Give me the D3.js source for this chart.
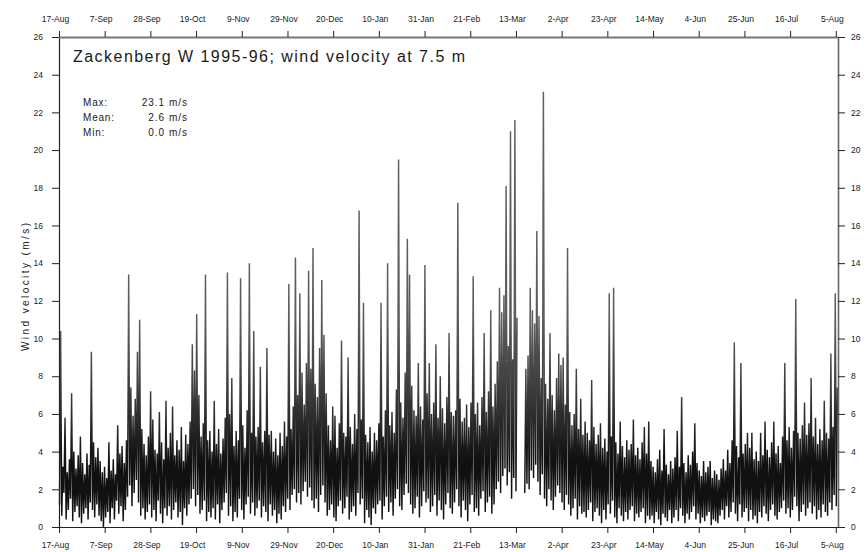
<!DOCTYPE html>
<html>
<head>
<meta charset="utf-8">
<script src="https://cdn.jsdelivr.net/npm/d3@7/dist/d3.min.js"></script>
<style>
  body { margin: 0; background: #fff; }
  svg text { font-family: "Liberation Sans", Arial, sans-serif; fill: #1a1a1a; }
</style>
</head>
<body>
<svg id="chart" width="868" height="552"></svg>
<script>
// Date tick labels (top and bottom axes), evenly spaced from 17-Aug-1995 to 5-Aug-1996
const dateTicks = ["17-Aug", "7-Sep", "28-Sep", "19-Oct", "9-Nov", "29-Nov", "20-Dec",
  "10-Jan", "31-Jan", "21-Feb", "13-Mar", "2-Apr", "23-Apr", "14-May", "4-Jun",
  "25-Jun", "16-Jul", "5-Aug"];
const spanDays = 354;

// Wind velocity ticks (m/s)
const velocityTicks = [0, 2, 4, 6, 8, 10, 12, 14, 16, 18, 20, 22, 24, 26];

// Daily low and high wind velocity (m/s), day 0 = 17-Aug-1995; null = no record
const dailyLow = [
  1.2, 0.6, 1.8, 0.4, 0.9, 1.5, 0.3, 0.8, 1.1, 0.5,
  0.2, 0.7, 1.0, 0.4, 1.3, 0.9, 0.5, 1.2, 0.6, 0.3,
  0.0, 0.5, 0.8, 0.2, 1.0, 0.4, 1.4, 0.7, 1.1, 0.3,
  0.9, 1.6, 2.2, 1.1, 1.8, 2.5, 1.3, 0.6, 1.0, 0.4,
  0.8, 1.2, 0.5, 0.9, 0.3, 1.4, 0.7, 0.2, 1.0, 0.6,
  1.1, 0.4, 0.9, 1.3, 0.5, 0.8, 0.1, 1.0, 0.6, 1.2,
  1.5, 2.0, 1.1, 1.7, 0.7, 0.9, 1.4, 0.3, 0.8, 0.5,
  1.0, 0.4, 1.2, 0.2, 0.9, 1.3, 1.8, 0.6, 1.1, 0.3,
  0.8, 0.5, 1.5, 0.9, 0.4, 1.2, 1.6, 0.7, 1.3, 0.6,
  1.0, 1.4, 0.5, 1.1, 0.8, 0.3, 1.2, 0.6, 0.9, 0.2,
  0.7, 0.4, 1.1, 0.8, 1.5, 0.9, 1.7, 2.0, 1.3, 1.8,
  1.2, 1.9, 2.4, 1.6, 2.1, 1.4, 1.0, 1.5, 0.8, 1.7,
  2.2, 1.3, 0.6, 0.9, 1.2, 0.5, 0.3, 1.1, 1.4, 0.7,
  1.0, 1.6, 0.4, 0.8, 1.1, 0.6, 1.8, 1.2, 1.5, 0.2,
  0.9, 0.5, 0.1, 1.0, 0.7, 1.2, 1.4, 0.4, 1.1, 1.6,
  0.8, 1.3, 0.6, 1.5, 2.0, 1.1, 0.9, 1.7, 2.3, 1.8,
  1.2, 0.7, 1.0, 1.6, 0.5, 1.1, 1.9, 1.3, 1.5, 0.8,
  1.1, 1.7, 0.6, 1.4, 0.9, 0.4, 1.2, 1.8, 1.0, 0.7,
  1.3, 2.0, 1.1, 0.5, 1.4, 0.9, 0.3, 1.2, 1.7, 0.8,
  1.0, 0.6, 1.5, 1.9, 0.8, 1.3, 1.6, 0.7, 1.2, 2.0,
  2.4, 1.8, 2.7, 3.1, 2.2, 2.9, 1.5, 2.6, 1.9, null,
  null, null, 1.8, 2.3, 2.0, 3.0, 2.6, 3.3, 2.4, 1.7,
  2.8, 1.5, 1.1, 2.0, 1.4, 0.9, 1.6, 2.2, 1.8, 1.3,
  0.9, 1.7, 1.2, 0.6, 1.0, 1.5, 0.4, 1.1, 0.7, 0.8,
  0.5, 0.9, 1.3, 0.3, 0.8, 1.0, 0.6, 0.2, 0.9, 0.4,
  1.2, 0.7, 1.4, 0.5, 0.2, 1.0, 0.6, 0.3, 0.8, 0.4,
  0.9, 1.1, 0.3, 0.7, 0.5, 0.8, 1.0, 0.2, 0.6, 0.4,
  0.6, 0.2, 0.8, 0.4, 0.1, 0.7, 0.5, 0.3, 0.9, 0.2,
  0.5, 0.9, 0.3, 1.0, 0.6, 0.2, 0.7, 0.4, 0.8, 1.1,
  0.4, 0.7, 0.2, 0.5, 0.3, 0.6, 0.8, 0.1, 0.4, 0.3,
  0.2, 0.6, 0.9, 0.4, 1.1, 0.5, 0.8, 1.3, 0.7, 0.3,
  1.2, 0.5, 0.8, 1.0, 0.3, 0.9, 0.4, 0.6, 0.2, 0.8,
  0.5, 1.1, 0.7, 0.3, 0.9, 1.2, 0.6, 0.4, 0.8, 1.0,
  1.4, 0.7, 1.0, 0.5, 0.9, 1.6, 1.1, 0.3, 0.8, 1.2,
  0.6, 1.0, 1.3, 0.7, 1.1, 0.4, 0.9, 0.5, 1.2, 0.8,
  0.6, 1.3, 0.9, 1.7, 1.1
];
const dailyHigh = [
  10.4, 3.2, 5.8, 2.9, 3.6, 7.1, 4.0, 3.1, 3.8, 4.8,
  3.4, 2.8, 3.9, 3.3, 9.3, 4.5, 3.7, 4.2, 3.5, 2.9,
  3.2, 2.6, 4.5, 3.0, 3.6, 2.8, 5.4, 3.9, 4.3, 3.4,
  4.6, 13.4, 7.4, 5.9, 6.8, 9.3, 11.0, 5.2, 4.4, 3.8,
  4.8, 7.2, 5.7, 4.1, 3.9, 6.1, 4.5, 3.6, 6.7, 4.2,
  5.0, 6.4, 3.8, 4.6, 4.1, 5.3, 3.5, 4.9, 4.4, 5.6,
  9.7, 8.3, 11.3, 7.0, 4.8, 5.5, 13.4, 4.6, 5.1, 4.0,
  6.7, 4.4, 5.2, 3.9, 4.7, 5.8, 13.5, 6.0, 7.9, 4.3,
  5.1, 4.6, 13.2, 5.4, 4.2, 6.2, 14.0, 5.0, 10.4, 4.8,
  5.3, 8.5, 4.5, 5.1, 9.5, 4.9, 5.1, 4.0, 4.7, 3.8,
  5.0, 4.3, 5.6, 4.8, 12.9, 5.2, 6.4, 14.3, 7.0, 12.4,
  8.2, 6.5, 8.7, 13.6, 8.4, 14.8, 7.6, 6.9, 9.5, 13.1,
  10.2, 7.1, 5.4, 4.6, 6.4, 5.9, 4.2, 5.5, 9.9, 5.0,
  4.8, 9.0, 5.3, 4.4, 6.0, 5.2, 16.8, 5.7, 11.9, 4.9,
  4.5, 5.3, 4.0, 5.0, 4.6, 5.5, 11.9, 4.8, 6.2, 14.0,
  5.4, 6.1, 5.0, 7.3, 19.5, 6.6, 5.8, 8.2, 15.3, 13.4,
  7.5, 6.2, 5.9, 8.7, 6.4, 5.7, 13.9, 7.1, 8.7, 6.0,
  6.6, 9.7, 5.8, 8.0, 6.3, 5.5, 6.9, 10.3, 6.1, 5.9,
  6.2, 17.2, 6.8, 5.6, 5.8, 6.5, 5.3, 6.6, 13.3, 6.0,
  6.6, 5.4, 6.9, 10.3, 6.1, 7.2, 11.5, 6.4, 7.6, 8.8,
  12.7, 11.4, 12.3, 18.1, 9.6, 21.0, 8.9, 21.6, 11.1, null,
  null, null, 8.4, 9.1, 12.7, 11.5, 10.8, 15.7, 11.2, 7.9,
  23.1, 7.6, 6.8, 10.3, 7.0, 6.2, 7.9, 9.2, 8.6, 9.0,
  6.5, 14.8, 6.1, 5.4, 6.0, 8.4, 5.2, 6.8, 4.9, 5.6,
  5.0, 4.6, 7.8, 5.3, 4.4, 4.9, 5.5, 4.2, 4.7, 4.0,
  12.4, 4.8, 12.7, 4.5, 3.9, 5.6, 4.3, 3.7, 4.6, 4.1,
  4.4, 5.7, 3.8, 4.2, 3.6, 4.5, 5.3, 3.9, 5.6, 3.5,
  3.2, 2.9, 3.6, 4.1, 3.0, 5.2, 3.3, 2.8, 3.5, 3.1,
  3.7, 5.1, 3.2, 6.9, 3.4, 2.9, 3.8, 3.3, 4.0, 5.5,
  3.4, 3.0, 2.7, 3.5, 2.9, 3.2, 3.5, 2.6, 3.0, 2.8,
  2.5, 3.1, 3.6, 3.0, 4.1, 3.4, 4.6, 9.8, 4.3, 3.7,
  8.7, 3.9, 4.4, 5.0, 4.2, 5.0, 3.6, 4.0, 3.5, 5.0,
  3.8, 5.6, 4.1, 3.7, 4.5, 5.6, 3.9, 4.3, 3.4, 4.8,
  8.7, 4.6, 5.3, 4.2, 5.1, 12.1, 5.0, 4.7, 5.4, 6.6,
  4.9, 5.5, 7.9, 4.8, 5.8, 4.4, 5.2, 4.6, 6.7, 5.0,
  4.7, 9.2, 5.3, 12.4, 7.4
];

// Summary statistics shown in the panel
const statNames = ["Max:", "Mean:", "Min:"];
const statValues = ["23.1 m/s", "2.6 m/s", "0.0 m/s"];

const titleText = "Zackenberg W 1995-96; wind velocity at 7.5 m";
const yTitle = "Wind velocity (m/s)";

const svg = d3.select("#chart");
const plot = { left: 59, right: 838, top: 37, bottom: 527 };

const x = d3.scaleLinear().domain([0, 355]).range([plot.left, plot.right]);
const y = d3.scaleLinear().domain([0, 26]).range([plot.bottom, plot.top]);

const tickPositions = dateTicks.map((_, i) => i * spanDays / (dateTicks.length - 1));
const tickLabel = (d, i) => dateTicks[i];

// Two samples per day: the low, then the high
const series = [];
dailyLow.forEach((lo, i) => {
  series.push({ t: i + 0.25, v: lo });
  series.push({ t: i + 0.75, v: dailyHigh[i] });
});

// Stroke shade: dense near the ground, lighter on the isolated gusts
const defs = svg.append("defs");
const grad = defs.append("linearGradient")
  .attr("id", "traceShade")
  .attr("gradientUnits", "userSpaceOnUse")
  .attr("x1", 0).attr("x2", 0)
  .attr("y1", y(0)).attr("y2", y(26));
[[0, "#111"], [3.5, "#111"], [7, "#3a3a3a"], [11, "#5c5c5c"], [26, "#606060"]].forEach(([v, c]) => {
  grad.append("stop").attr("offset", v / 26).attr("stop-color", c);
});

const line = d3.line()
  .defined(d => d.v != null)
  .x(d => x(d.t))
  .y(d => y(d.v));

svg.append("path")
  .datum(series)
  .attr("d", line)
  .attr("fill", "none")
  .attr("stroke", "url(#traceShade)")
  .attr("stroke-width", 1.45)
  .attr("stroke-linejoin", "bevel");

// Axes
function styleAxis(g) {
  g.selectAll("path.domain").attr("stroke", "#222").attr("stroke-width", 1.2);
  g.selectAll(".tick line").attr("stroke", "#222").attr("stroke-width", 1);
  g.selectAll(".tick text").attr("fill", "#333").style("font-size", "8.5px")
    .style("font-family", "'Liberation Sans', Arial, sans-serif");
}

const axL = svg.append("g").attr("transform", `translate(${plot.left},0)`)
  .call(d3.axisLeft(y).tickValues(velocityTicks).tickSize(7).tickSizeOuter(0).tickPadding(9));
styleAxis(axL);

const axR = svg.append("g").attr("transform", `translate(${plot.right},0)`)
  .call(d3.axisRight(y).tickValues(velocityTicks).tickSize(7).tickSizeOuter(0).tickPadding(6));
styleAxis(axR);
axR.select("path.domain").attr("stroke", "#666").attr("stroke-width", 1.6);

const axT = svg.append("g").attr("transform", `translate(0,${plot.top})`)
  .call(d3.axisTop(x).tickValues(tickPositions).tickFormat(tickLabel).tickSize(6).tickSizeOuter(0).tickPadding(9));
styleAxis(axT);
axT.select("path.domain").attr("stroke", "#777").attr("stroke-width", 2);
axT.selectAll(".tick text").attr("x", -4);

const axB = svg.append("g").attr("transform", `translate(0,${plot.bottom})`)
  .call(d3.axisBottom(x).tickValues(tickPositions).tickFormat(tickLabel).tickSize(6).tickSizeOuter(0).tickPadding(9));
styleAxis(axB);
axB.selectAll(".tick text").attr("x", -4);

// Title
svg.append("text")
  .attr("x", 73).attr("y", 62)
  .attr("textLength", 392).attr("lengthAdjust", "spacing")
  .style("font-size", "16px")
  .text(titleText);

// Summary statistics
const statRows = [105.5, 121, 136];
statNames.forEach((s, i) => {
  svg.append("text").attr("x", 83).attr("y", statRows[i])
    .style("font-size", "10px").style("letter-spacing", "0.8px").text(s);
  svg.append("text").attr("x", 188).attr("y", statRows[i])
    .attr("text-anchor", "end")
    .style("font-size", "10px").style("letter-spacing", "1px").text(statValues[i]);
});

// Y axis title
svg.append("text")
  .attr("transform", "translate(29,287) rotate(-90)")
  .attr("text-anchor", "middle")
  .attr("textLength", 128).attr("lengthAdjust", "spacing")
  .style("font-size", "10px")
  .text(yTitle);
</script>
</body>
</html>
